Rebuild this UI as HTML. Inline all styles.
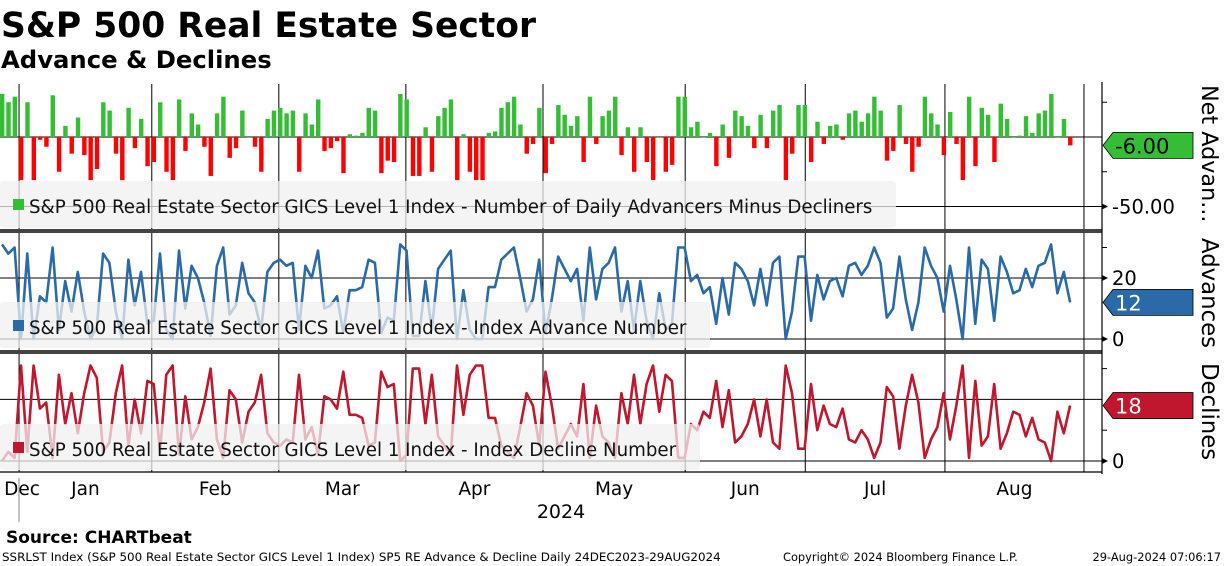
<!DOCTYPE html>
<html><head><meta charset="utf-8"><style>
html,body{margin:0;padding:0;background:#fff;width:1224px;height:566px;overflow:hidden}
svg{display:block;font-family:"DejaVu Sans","Liberation Sans",sans-serif}
</style></head><body>
<svg id="chart" width="1224" height="566" viewBox="0 0 1224 566" xmlns="http://www.w3.org/2000/svg">
<text x="1" y="37" font-size="34.5" font-weight="bold" fill="#000">S&amp;P 500 Real Estate Sector</text>
<text x="1" y="68" font-size="24.3" font-weight="bold" fill="#000">Advance &amp; Declines</text>
<g id="grid"></g>
<g id="marks"></g>
<g id="legends">
 <rect x="0" y="181" width="896" height="47" rx="3" fill="rgba(240,240,240,0.75)"/>
 <rect x="13" y="199" width="11" height="11" fill="#35be35"/>
 <text x="29" y="213" font-size="18.2" fill="#111">S&amp;P 500 Real Estate Sector GICS Level 1 Index - Number of Daily Advancers Minus Decliners</text>
 <rect x="0" y="302" width="710" height="46" rx="3" fill="rgba(240,240,240,0.75)"/>
 <rect x="13" y="320" width="11" height="11" fill="#2a6aa8"/>
 <text x="29" y="334" font-size="18.2" fill="#111">S&amp;P 500 Real Estate Sector GICS Level 1 Index - Index Advance Number</text>
 <rect x="0" y="424" width="700" height="46" rx="3" fill="rgba(240,240,240,0.75)"/>
 <rect x="13" y="442" width="11" height="11" fill="#c0172e"/>
 <text x="29" y="456" font-size="18.2" fill="#111">S&amp;P 500 Real Estate Sector GICS Level 1 Index - Index Decline Number</text>
</g>
<g id="axes"></g>
<text x="561" y="518" font-size="19" text-anchor="middle" fill="#000">2024</text>
<line x1="19" y1="478" x2="19" y2="522" stroke="#888" stroke-width="1"/>
<text x="6" y="543" font-size="17" font-weight="bold" fill="#000">Source:  CHARTbeat</text>
<text x="2" y="561" font-size="11.9" fill="#000">SSRLST Index (S&amp;P 500 Real Estate Sector GICS Level 1 Index) SP5 RE Advance &amp; Decline  Daily 24DEC2023-29AUG2024</text>
<text x="783" y="561" font-size="11.4" fill="#000">Copyright© 2024 Bloomberg Finance L.P.</text>
<text x="1221" y="561" font-size="11.4" text-anchor="end" fill="#000">29-Aug-2024 07:06:17</text>
</svg>
<script>
const netValues=[31,25,29,-31,25,-31,-2,-7,30,-25,8,-12,14,-13,-31,-23,25,19,-12,-31,21,-8,13,-21,-18,25,-25,-31,27,-10,17,9,-7,-28,17,29,-15,-8,19,0,-7,-25,13,19,21,17,19,-25,17,9,27,-10,-8,-3,-26,2,1,3,21,19,-26,-17,-18,31,27,-28,-28,7,-25,15,21,27,-31,2,-25,-31,-31,3,4,21,25,29,9,-12,-5,21,
-26,-5,23,16,8,15,-18,29,-5,15,19,29,-13,7,-25,7,-18,-31,0,-25,-20,29,29,7,11,0,3,-21,9,-15,19,15,8,-8,16,-8,19,23,-31,-12,23,23,-18,11,-5,8,9,-2,17,19,11,17,29,19,-17,-10,23,-5,-25,-7,29,17,9,-13,18,-5,-31,29,-21,21,16,-18,24,13,0,1,15,3,17,19,31,0,13,-6];
const advValues=[31,28,30,0,28,0,14,12,30,3,19,9,22,9,0,4,28,25,9,0,26,11,22,5,6,28,3,0,29,10,24,20,12,1,24,30,8,11,25,15,12,3,22,25,26,24,25,3,24,20,29,10,11,14,2,16,16,17,26,25,2,7,6,31,29,1,1,19,3,23,26,29,0,16,3,0,0,17,17,26,28,30,20,9,13,26,
2,13,27,23,19,23,6,30,13,23,25,30,9,19,3,19,6,0,15,3,5,30,30,19,21,15,17,5,20,8,25,23,19,11,23,11,25,27,0,9,27,27,6,21,13,19,20,14,24,25,21,24,30,25,7,10,27,13,3,12,30,24,20,9,24,13,0,30,5,26,23,6,27,22,15,16,23,17,24,25,31,15,22,12];
const decValues=[0,3,1,31,3,31,17,19,1,28,12,22,9,22,31,27,3,6,22,31,5,20,9,26,25,3,28,31,2,21,7,11,19,30,7,1,23,20,6,16,19,28,9,6,5,7,6,28,7,11,2,21,20,17,29,15,15,14,5,6,29,24,25,0,2,30,30,12,28,8,5,2,31,15,28,31,31,14,14,5,3,1,11,22,18,5,
29,18,4,8,12,8,25,1,18,8,6,1,22,12,28,12,25,31,16,28,26,1,1,12,10,16,14,26,11,23,6,8,12,20,8,20,6,4,31,22,4,4,25,10,18,12,11,17,7,6,10,7,1,6,24,21,4,18,28,19,1,7,11,22,7,18,31,1,26,5,8,25,4,9,16,15,8,14,7,6,0,16,9,18];
const monthLabels=["Jan","Feb","Mar","Apr","May","Jun","Jul","Aug"];
const monthBounds=[2.7,23.7,43.8,63.9,85.6,108.1,127.1,149.2,171.2];
const netTicks=[-50];
const advTicks=[0,20];
const decTicks=[0,20];

const NS="http://www.w3.org/2000/svg";
function mk(tag,attrs,parent){const e=document.createElementNS(NS,tag);for(const k in attrs)e.setAttribute(k,attrs[k]);parent.appendChild(e);return e;}
const X0=2,STEP=6.32,RIGHT=1102;
function xScale(i){return X0+i*STEP;}
function yNet(v){return 137-v*1.39;}
function yAdv(v){return 339-v*3.05;}
function yDec(v){return 461-v*3.08;}
const grid=document.getElementById('grid'),marks=document.getElementById('marks'),axes=document.getElementById('axes');

monthBounds.forEach(b=>{
 const l=mk('line',{x1:xScale(b),x2:xScale(b),y1:84,y2:472,stroke:'#000','stroke-width':1},grid);
 
 
});
[[yNet(0),'net-zero-line'],[yAdv(0),'adv-zero-gridline'],[yDec(0),'dec-zero-gridline']].forEach(([y,n])=>{
 const l=mk('line',{x1:0,x2:RIGHT,y1:y,y2:y,stroke:'#000','stroke-width':1},grid);
 
 
});
netTicks.forEach(t=>{const l=mk('line',{x1:0,x2:RIGHT,y1:yNet(t),y2:yNet(t),stroke:'#000','stroke-width':1},grid);
 
 });
advTicks.forEach(t=>{const l=mk('line',{x1:0,x2:RIGHT,y1:yAdv(t),y2:yAdv(t),stroke:'#000','stroke-width':1},grid);
 
 });
decTicks.forEach(t=>{const l=mk('line',{x1:0,x2:RIGHT,y1:yDec(t),y2:yDec(t),stroke:'#000','stroke-width':1},grid);
 
 });

netValues.forEach((v,i)=>{
 const y=yNet(Math.max(v,0)),h=Math.abs(yNet(v)-yNet(0));
 const r=mk('rect',{x:xScale(i)-2,y:y,width:4.4,height:Math.max(h,0.8),fill:v>=0?'#35be35':'#ff0000'},marks);
 
 
});
function line(vals,yf,color,name){
 const d=vals.map((v,i)=>(i?'L':'M')+xScale(i).toFixed(1)+' '+yf(v).toFixed(1)).join(' ');
 const p=mk('path',{d:d,fill:'none',stroke:color,'stroke-width':2.6,'stroke-linejoin':'round'},marks);
 
 
}
line(advValues,yAdv,'#2a6aa8','advances-line');
line(decValues,yDec,'#c0172e','declines-line');

[231,352].forEach(y=>{const r=mk('rect',{x:0,y:y-2,width:RIGHT,height:4,fill:'#444'},axes);
 
 });
const ra=mk('line',{x1:RIGHT,x2:RIGHT,y1:82,y2:474,stroke:'#000','stroke-width':1.2},axes);


const ba=mk('line',{x1:0,x2:RIGHT,y1:472,y2:472,stroke:'#000','stroke-width':1.2},axes);


[[yNet(25)],[yNet(-25)],[yAdv(30)],[yDec(30)],[yDec(10)]].forEach(([y])=>{
 const l=mk('line',{x1:RIGHT,x2:RIGHT+5,y1:y,y2:y,stroke:'#000'},axes);
 
 
});
function tickLabel(txt,y,name){
 const a=mk('path',{d:`M${RIGHT} ${y-3} L${RIGHT+6} ${y} L${RIGHT} ${y+3} Z`,fill:'#000'},axes);
 
 
 const t=mk('text',{x:RIGHT+10,y:y+7,'font-size':19.5,fill:'#000'},axes);
 t.textContent=txt;
 
 
}
netTicks.forEach(t=>tickLabel(t.toFixed(2),yNet(t),'net-tick-label'));
advTicks.forEach(t=>tickLabel(String(t),yAdv(t),'adv-tick-label'));
tickLabel('0',yDec(0),'dec-tick-label');
function tag(val,txt,y,fill,tc,name){
 const p=mk('polygon',{points:`${RIGHT+1},${y} ${RIGHT+11},${y-13} 1193,${y-13} 1193,${y+13} ${RIGHT+11},${y+13}`,fill:fill,stroke:'#000','stroke-width':0.8},axes);
 
 
 const t=mk('text',{x:RIGHT+13,y:y+8,'font-size':21,fill:tc},axes);
 t.textContent=txt;
 
 
}
const lastNet=netValues[netValues.length-1],lastAdv=advValues[advValues.length-1],lastDec=decValues[decValues.length-1];
tag(lastNet,lastNet.toFixed(2),yNet(lastNet),'#35be35','#000','net-last-value-tag');
tag(lastAdv,String(lastAdv),yAdv(lastAdv),'#2a6aa8','#fff','adv-last-value-tag');
tag(lastDec,String(lastDec),yDec(lastDec),'#c0172e','#fff','dec-last-value-tag');
[['Net Advan...',85,'net-panel-title',22.3],['Advances',238,'adv-panel-title',22.8],['Declines',363,'dec-panel-title',22.8]].forEach(([s,y,n,fs])=>{
 const t=mk('text',{x:0,y:0,'font-size':fs,fill:'#000',transform:`translate(1202,${y}) rotate(90)`},axes);
 t.textContent=s;
 
 
});
const dl=mk('text',{x:22,y:495,'font-size':18.5,'text-anchor':'middle',fill:'#000'},axes);
dl.textContent='Dec';


monthLabels.forEach((m,k)=>{
 const cx=(xScale(monthBounds[k])+xScale(monthBounds[k+1]))/2;
 const t=mk('text',{x:cx,y:495,'font-size':18.5,'text-anchor':'middle',fill:'#000'},axes);
 t.textContent=m;
 
 
});
</script>
</body></html>
